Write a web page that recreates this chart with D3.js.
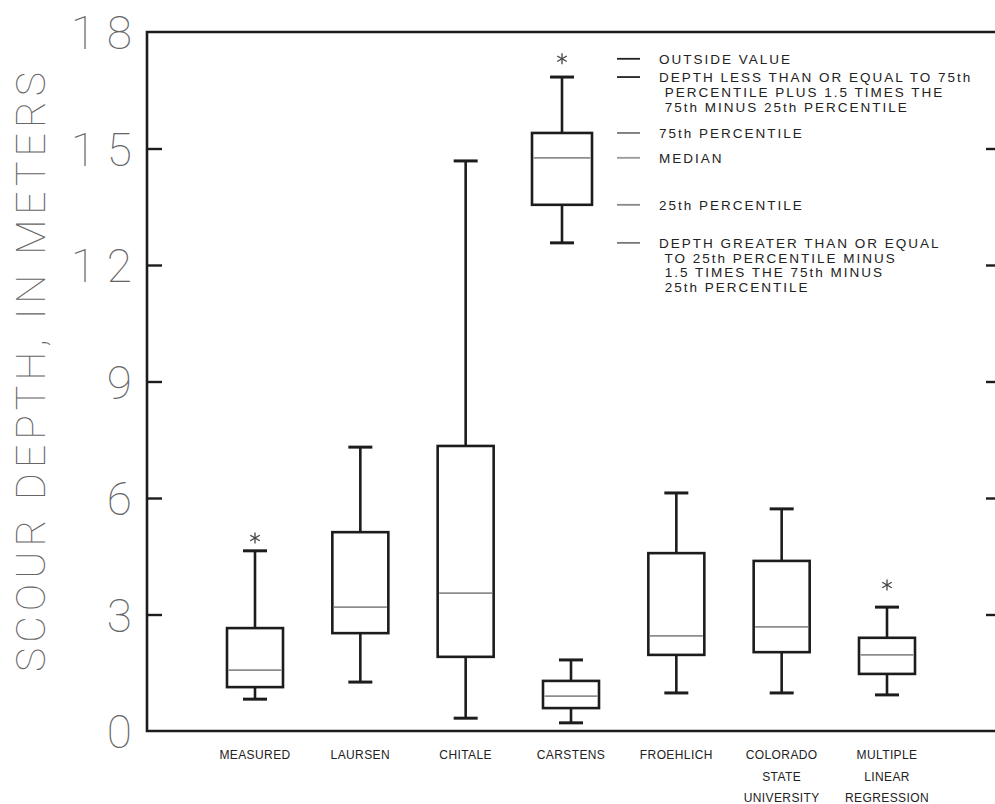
<!DOCTYPE html>
<html>
<head>
<meta charset="utf-8">
<style>
  body { margin: 0; background: #fff; }
  text { font-family: "Liberation Sans", Arial, sans-serif; }
</style>
</head>
<body>
<script src="https://d3js.org/d3.v7.min.js"></script>
<div id="chart"></div>
<script>
// categories and their printed (multi-line) labels
var categories = ["MEASURED", "LAURSEN", "CHITALE", "CARSTENS", "FROEHLICH", "COLORADO STATE UNIVERSITY", "MULTIPLE LINEAR REGRESSION"];
var labelLines = [["MEASURED"], ["LAURSEN"], ["CHITALE"], ["CARSTENS"], ["FROEHLICH"], ["COLORADO", "STATE", "UNIVERSITY"], ["MULTIPLE", "LINEAR", "REGRESSION"]];

// box statistics, meters
var whiskerLow  = [0.82, 1.26, 0.33, 0.21, 0.98, 0.98, 0.93];
var q1          = [1.13, 2.52, 1.91, 0.59, 1.96, 2.03, 1.47];
var median      = [1.57, 3.19, 3.55, 0.90, 2.45, 2.68, 1.96];
var q3          = [2.65, 5.12, 7.34, 1.29, 4.58, 4.38, 2.40];
var whiskerHigh = [4.64, 7.31, 14.68, 1.83, 6.13, 5.72, 3.19];
var outliers    = [[4.97], [], [], [], [], [], [3.76]];

// explanation box: low whisker, q1, median, q3, high whisker, outside value
var legendBox = [12.57, 13.55, 14.76, 15.40, 16.84, 17.31];
var legendText = [
  ["OUTSIDE VALUE"],
  ["DEPTH LESS THAN OR EQUAL TO 75th", " PERCENTILE PLUS 1.5 TIMES THE", " 75th MINUS 25th PERCENTILE"],
  ["75th PERCENTILE"],
  ["MEDIAN"],
  ["25th PERCENTILE"],
  ["DEPTH GREATER THAN OR EQUAL", " TO 25th PERCENTILE MINUS", " 1.5 TIMES THE 75th MINUS", " 25th PERCENTILE"]
];
var yTicks = [3, 6, 9, 12, 15];
var yLabels = [0, 3, 6, 9, 12, 15, 18];

var W = 995, H = 804;
var mLeft = 147, mRight = 998, mTop = 32, mBottom = 731;

var svg = d3.select("#chart").append("svg")
  .attr("width", W).attr("height", H);

var y = d3.scaleLinear().domain([0, 18]).range([mBottom, mTop]);
var x = d3.scalePoint().domain(categories).range([255, 887]);

var ink = "#1c1c1c";

// frame
svg.append("path")
  .attr("d", "M" + mRight + "," + mTop + "H" + mLeft + "V" + mBottom + "H" + mRight)
  .attr("fill", "none").attr("stroke", ink).attr("stroke-width", 2.6);

// inward ticks on both sides
svg.append("g").attr("transform", "translate(" + mLeft + ",0)")
  .call(d3.axisRight(y).tickValues(yTicks).tickSize(15).tickFormat(""))
  .call(function(g) { g.select(".domain").remove(); g.selectAll("line").attr("stroke", ink).attr("stroke-width", 2.4); });
svg.append("g").attr("transform", "translate(" + mRight + ",0)")
  .call(d3.axisLeft(y).tickValues(yTicks).tickSize(12).tickFormat(""))
  .call(function(g) { g.select(".domain").remove(); g.selectAll("line").attr("stroke", ink).attr("stroke-width", 2.4); });

// tick labels
svg.selectAll(".ylab").data(yLabels).enter().append("text")
  .attr("x", 143).attr("y", function(d) { return y(d) + 17; })
  .attr("text-anchor", "end")
  .style("font-family", "Roboto, 'DejaVu Sans', sans-serif")
  .style("font-weight", 100)
  .style("font-size", "46px")
  .style("letter-spacing", "11px")
  .attr("fill", "#666")
  .text(function(d) { return d; });

// axis title
svg.append("text")
  .attr("transform", "translate(45,372) rotate(-90)")
  .attr("text-anchor", "middle")
  .attr("textLength", 600).attr("lengthAdjust", "spacing")
  .style("font-family", "Roboto, 'DejaVu Sans', sans-serif")
  .style("font-weight", 100)
  .style("font-size", "41px")
  .attr("fill", "#666")
  .text("SCOUR DEPTH, IN METERS");

// category labels
labelLines.forEach(function(lines, i) {
  lines.forEach(function(t, j) {
    svg.append("text")
      .attr("x", x(categories[i])).attr("y", 759 + j * 21.5)
      .attr("text-anchor", "middle")
      .style("font-size", "12px").style("letter-spacing", "0.4px")
      .attr("fill", "#222")
      .text(t);
  });
});

var boxW = 56, capW = 24;

function asterisk(g, cx, cy) {
  var r = 5.5;
  [90, 30, 150].forEach(function(a) {
    var dx = r * Math.cos(a * Math.PI / 180), dy = r * Math.sin(a * Math.PI / 180);
    g.append("line").attr("x1", cx - dx).attr("y1", cy - dy).attr("x2", cx + dx).attr("y2", cy + dy)
      .attr("stroke", "#444").attr("stroke-width", 1.3);
  });
}

function drawBox(g, cx, lo, a, m, b, hi, outs, w) {
  g.append("line").attr("x1", cx).attr("x2", cx).attr("y1", y(hi)).attr("y2", y(b))
    .attr("stroke", ink).attr("stroke-width", 2.6);
  g.append("line").attr("x1", cx).attr("x2", cx).attr("y1", y(a)).attr("y2", y(lo))
    .attr("stroke", ink).attr("stroke-width", 2.6);
  [lo, hi].forEach(function(v) {
    g.append("line").attr("x1", cx - capW / 2).attr("x2", cx + capW / 2).attr("y1", y(v)).attr("y2", y(v))
      .attr("stroke", ink).attr("stroke-width", 3);
  });
  g.append("rect").attr("x", cx - w / 2).attr("width", w)
    .attr("y", y(b)).attr("height", y(a) - y(b))
    .attr("fill", "none").attr("stroke", ink).attr("stroke-width", 2.6);
  g.append("line").attr("x1", cx - w / 2 + 1.5).attr("x2", cx + w / 2 - 1.5).attr("y1", y(m)).attr("y2", y(m))
    .attr("stroke", "#8c8c8c").attr("stroke-width", 1.7);
  outs.forEach(function(o) { asterisk(g, cx, y(o)); });
}

var boxes = svg.append("g");
categories.forEach(function(c, i) {
  drawBox(boxes, x(c), whiskerLow[i], q1[i], median[i], q3[i], whiskerHigh[i], outliers[i], boxW);
});

// explanation
var lg = svg.append("g");
var lx = x("CARSTENS") - 9;
drawBox(lg, lx, legendBox[0], legendBox[1], legendBox[2], legendBox[3], legendBox[4], [legendBox[5]], 60);

var entryY = [legendBox[5], legendBox[4], legendBox[3], legendBox[2], legendBox[1], legendBox[0]];
var dashCol = ["#222", "#222", "#777", "#999", "#888", "#777"];
legendText.forEach(function(lines, i) {
  var yy = y(entryY[i]);
  lg.append("line").attr("x1", 617).attr("x2", 640).attr("y1", yy).attr("y2", yy)
    .attr("stroke", dashCol[i]).attr("stroke-width", 1.8);
  lines.forEach(function(t, j) {
    lg.append("text")
      .attr("x", 659).attr("y", yy + 5 + j * 14.8)
      .attr("xml:space", "preserve")
      .style("font-size", "13.5px").style("letter-spacing", "2px")
      .attr("fill", "#222")
      .text(t);
  });
});
</script>
</body>
</html>
